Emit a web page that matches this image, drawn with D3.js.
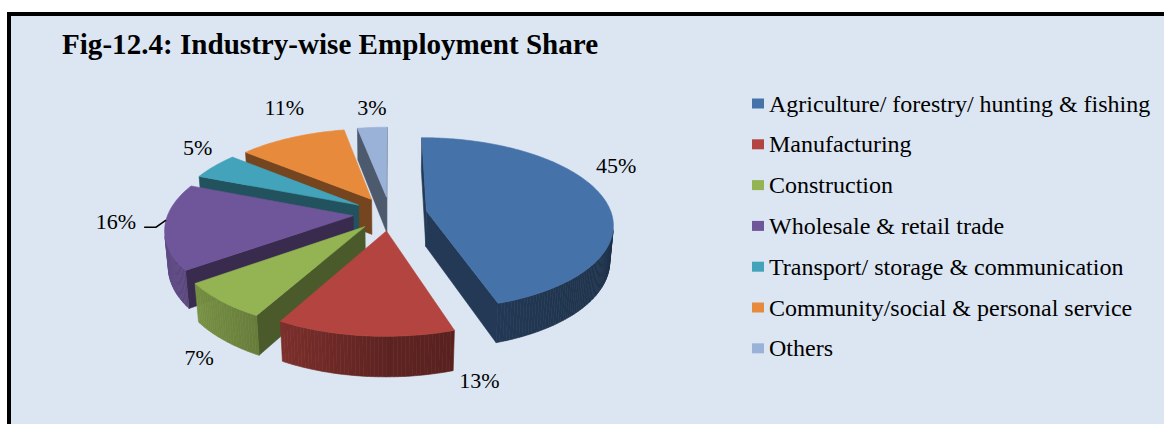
<!DOCTYPE html>
<html>
<head>
<meta charset="utf-8">
<script src="https://cdn.jsdelivr.net/npm/d3@7/dist/d3.min.js"></script>
<style>
  html, body { margin: 0; padding: 0; background: #ffffff; }
  svg { display: block; }
  text { font-family: "Liberation Serif", "Times New Roman", serif; fill: #000; }
</style>
</head>
<body>
<svg id="chart" width="1164" height="424"></svg>
<script>
// ---- data ----
const title = "Fig-12.4: Industry-wise Employment Share";
const categories = [
  "Agriculture/ forestry/ hunting & fishing",
  "Manufacturing",
  "Construction",
  "Wholesale & retail trade",
  "Transport/ storage & communication",
  "Community/social & personal service",
  "Others"
];
const shares = [45, 13, 7, 16, 5, 11, 3];
const palette = ["#4672aa", "#b4443f", "#94b353", "#6f569a", "#43a3bb", "#e88a3b", "#9ab1d8"];

// ---- canvas ----
const W = 1164, H = 424;
const svg = d3.select("#chart");

// panel with a heavy frame on the left and top
svg.append("rect")
  .attr("x", 9).attr("y", 14)
  .attr("width", W + 20).attr("height", H + 20)
  .attr("fill", "#dce6f2")
  .attr("stroke", "#000").attr("stroke-width", 4);

svg.append("text")
  .attr("transform", "translate(62,54) scale(0.97,1)")
  .attr("font-size", 30).attr("font-weight", "bold")
  .text(title);

// ---- 3D pie ----
const color = d3.scaleOrdinal().domain(categories).range(palette);
const pie = d3.pie().sort(null).value(d => d.value);
const slices = pie(categories.map((c, i) => ({ name: c, value: shares[i] })));

// perspective camera looking down at the pie plane
const cam = { D: 6.15, tilt: 27.2 * Math.PI / 180, F: 1138, cx: 390, cy: 213.6 };
const sT = Math.sin(cam.tilt), cT = Math.cos(cam.tilt);
const camPos = [0, cam.D * sT, cam.D * cT];
function project(X, Y, Z) {
  const depth = cam.D - Y * sT - Z * cT;
  return [cam.cx + cam.F * X / depth, cam.cy - cam.F * (Y * cT - Z * sT) / depth];
}
const thickness = 0.22;   // slab height in radius units
const explode = 0.2;      // radial pull-out of every slice

const rScale = d3.scaleLinear().domain([0, 1]).range([0, 1]); // unit radius

slices.forEach(s => {
  s.mid = (s.startAngle + s.endAngle) / 2;
  s.ox = explode * Math.sin(s.mid);
  s.oz = -explode * Math.cos(s.mid);
});
function rimPt(s, a, Y, r = 1) {
  const rr = rScale(r);
  return project(s.ox + rr * Math.sin(a), Y, s.oz - rr * Math.cos(a));
}
function faces(n, px, pz) {
  // n = angle of the horizontal face normal; visible if it points toward the camera
  const nx = Math.sin(n), nz = -Math.cos(n);
  return nx * (camPos[0] - px) + nz * (camPos[2] - pz) > 0;
}
const shade = (c, k) => {
  const q = d3.rgb(c);
  return d3.rgb(q.r * k, q.g * k, q.b * k).formatHex();
};
const line = d3.line();

// far slices first
const order = slices.slice().sort((a, b) => a.oz - b.oz);
const gPie = svg.append("g");
order.forEach(s => {
  const g = gPie.append("g");
  const base = color(s.data.name);
  const a0 = s.startAngle, a1 = s.endAngle;
  const apexT = project(s.ox, 0, s.oz), apexB = project(s.ox, -thickness, s.oz);

  // radial cut faces
  [[a0, a0 - Math.PI / 2], [a1, a1 + Math.PI / 2]].forEach(([a, n]) => {
    if (!faces(n, s.ox, s.oz)) return;
    const pts = [apexT, rimPt(s, a, 0), rimPt(s, a, -thickness), apexB];
    g.append("path").attr("d", line(pts) + "Z")
      .attr("fill", shade(base, 0.5)).attr("stroke", shade(base, 0.5)).attr("stroke-width", 0.6);
  });

  // outer curved wall
  const steps = Math.max(4, Math.ceil((a1 - a0) / (Math.PI / 180)));
  const da = (a1 - a0) / steps;
  for (let i = 0; i < steps; i++) {
    const t0 = a0 + i * da, t1 = t0 + da, tm = t0 + da / 2;
    const px = s.ox + Math.sin(tm), pz = s.oz - Math.cos(tm);
    if (!faces(tm, px, pz)) continue;
    const k = 0.52 + 0.36 * Math.max(0, -Math.sin(tm)) - 0.09 * Math.max(0, Math.sin(tm));
    const pts = [rimPt(s, t0, 0), rimPt(s, t1, 0), rimPt(s, t1, -thickness), rimPt(s, t0, -thickness)];
    g.append("path").attr("d", line(pts) + "Z")
      .attr("fill", shade(base, k)).attr("stroke", shade(base, k)).attr("stroke-width", 0.6);
  }

  // top
  const top = [apexT];
  for (let i = 0; i <= steps; i++) top.push(rimPt(s, a0 + i * da, 0));
  g.append("path").attr("d", line(top) + "Z")
    .attr("fill", base).attr("stroke", base).attr("stroke-width", 0.6);
});

// ---- value labels ----
const labelPlacement = [
  { angle: 62.5, r: 1.28 },
  { angle: 163.5, r: 1.39 },
  { angle: 209.8, r: 1.40 },
  { angle: 267.1, r: 1.265, leader: true },
  { angle: 308, r: 1.27 },
  { angle: 336.4, r: 1.49 },
  { angle: 355.7, r: 1.34 }
];
const fmt = d => d3.format(".0f")(d) + "%";
slices.forEach((s, i) => {
  const lp = labelPlacement[i];
  const a = lp.angle * Math.PI / 180;
  const [x, y] = rimPt(s, a, 0, lp.r);
  const t = svg.append("text")
    .attr("x", x).attr("y", y + 7.5)
    .attr("text-anchor", "middle")
    .attr("font-size", 22)
    .text(fmt(s.data.value));
  if (lp.leader) {
    const [ex, ey] = rimPt(s, a, 0, 1);
    const w = t.node().getComputedTextLength();
    const ly = y + 6;
    svg.append("path")
      .attr("d", line([[x + w / 2 + 8, ly], [ex - 10, ly], [ex, ey]]))
      .attr("fill", "none").attr("stroke", "#000").attr("stroke-width", 1.5);
  }
});

// ---- legend ----
const legend = svg.append("g").attr("transform", "translate(752,103.5)");
const rowH = 40.8;
categories.forEach((c, i) => {
  const row = legend.append("g").attr("transform", `translate(0,${i * rowH})`);
  row.append("rect").attr("x", 0).attr("y", -5).attr("width", 12).attr("height", 10)
    .attr("fill", color(c));
  row.append("text").attr("x", 17).attr("y", 8).attr("font-size", 24).text(c);
});
</script>
</body>
</html>
